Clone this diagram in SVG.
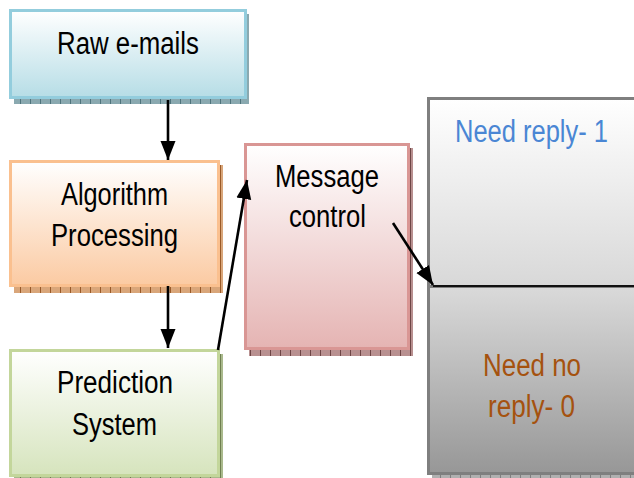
<svg xmlns="http://www.w3.org/2000/svg" width="634" height="478" viewBox="0 0 634 478">
  <defs>
    <linearGradient id="gBlue" x1="0" y1="0" x2="0" y2="1">
      <stop offset="0" stop-color="#ffffff"/>
      <stop offset="1" stop-color="#b6dde6"/>
    </linearGradient>
    <linearGradient id="gPeach" x1="0" y1="0" x2="0" y2="1">
      <stop offset="0" stop-color="#ffffff"/>
      <stop offset="1" stop-color="#fbcaa2"/>
    </linearGradient>
    <linearGradient id="gGreen" x1="0" y1="0" x2="0" y2="1">
      <stop offset="0" stop-color="#ffffff"/>
      <stop offset="1" stop-color="#d6e4bd"/>
    </linearGradient>
    <linearGradient id="gPink" x1="0" y1="0" x2="0" y2="1">
      <stop offset="0" stop-color="#ffffff"/>
      <stop offset="1" stop-color="#e5b4b3"/>
    </linearGradient>
    <linearGradient id="gLight" x1="0" y1="0" x2="0" y2="1">
      <stop offset="0" stop-color="#ffffff"/>
      <stop offset="1" stop-color="#d8d8d8"/>
    </linearGradient>
    <linearGradient id="gDark" x1="0" y1="0" x2="0" y2="1">
      <stop offset="0" stop-color="#dadada"/>
      <stop offset="1" stop-color="#979797"/>
    </linearGradient>
    <!-- textured drop-shadow strips -->
    <pattern id="pBlue" width="10" height="10" patternUnits="userSpaceOnUse">
      <rect width="10" height="10" fill="#8aa9b0"/>
      <rect width="1" height="10" fill="#4f747c"/>
    </pattern>
    <pattern id="pPeach" width="10" height="10" patternUnits="userSpaceOnUse">
      <rect width="10" height="10" fill="#d9a67a"/>
      <rect width="1" height="10" fill="#9a5a28"/>
    </pattern>
    <pattern id="pGreen" width="10" height="10" patternUnits="userSpaceOnUse">
      <rect width="10" height="10" fill="#a9b98c"/>
      <rect width="1" height="10" fill="#6f7f50"/>
    </pattern>
    <pattern id="pPink" width="10" height="10" patternUnits="userSpaceOnUse">
      <rect width="10" height="10" fill="#b89090"/>
      <rect width="1" height="10" fill="#6e4646"/>
    </pattern>
    <pattern id="pGray" width="10" height="10" patternUnits="userSpaceOnUse">
      <rect width="10" height="10" fill="#b0b0b0"/>
      <rect width="1" height="10" fill="#808080"/>
    </pattern>
    <marker id="arrow" markerUnits="userSpaceOnUse" markerWidth="20" markerHeight="20" viewBox="0 0 20 20" refX="19" refY="10" orient="auto">
      <path d="M0,2.5 L19,10 L0,17.5 Z" fill="#000"/>
    </marker>
  </defs>
  <style>
    .lbl { font-family: "Liberation Sans", Arial, sans-serif; font-size: 31px; fill: #000; }
    .blue { fill: #4a86d4; }
    .brown { fill: #a5520f; }
    .conn { stroke: #000; stroke-width: 2.6; fill: none; marker-end: url(#arrow); }
  </style>

  <rect width="634" height="478" fill="#ffffff"/>

  <g id="raw-emails">
    <rect x="14" y="14" width="235" height="90" fill="url(#pBlue)"/>
    <rect x="10.5" y="10.5" width="235" height="87" fill="url(#gBlue)" stroke="#93cddd" stroke-width="3"/>
    <text class="lbl" x="57" y="54" textLength="142" lengthAdjust="spacingAndGlyphs">Raw e-mails</text>
  </g>

  <g id="algorithm-processing">
    <rect x="14" y="165" width="209" height="128" fill="url(#pPeach)"/>
    <rect x="10.5" y="161.5" width="208" height="124" fill="url(#gPeach)" stroke="#fac08f" stroke-width="3"/>
    <text class="lbl" x="61" y="205" textLength="107" lengthAdjust="spacingAndGlyphs">Algorithm</text>
    <text class="lbl" x="51" y="246" textLength="127" lengthAdjust="spacingAndGlyphs">Processing</text>
  </g>

  <g id="prediction-system">
    <rect x="14" y="354" width="209" height="128" fill="url(#pGreen)"/>
    <rect x="10.5" y="350.5" width="208" height="125" fill="url(#gGreen)" stroke="#c3d69b" stroke-width="3"/>
    <text class="lbl" x="57" y="393" textLength="116" lengthAdjust="spacingAndGlyphs">Prediction</text>
    <text class="lbl" x="72" y="435" textLength="85" lengthAdjust="spacingAndGlyphs">System</text>
  </g>

  <g id="message-control">
    <rect x="249" y="148" width="164" height="208" fill="url(#pPink)"/>
    <rect x="245.5" y="144.5" width="163" height="204" fill="url(#gPink)" stroke="#d99694" stroke-width="3"/>
    <text class="lbl" x="275" y="187" textLength="104" lengthAdjust="spacingAndGlyphs">Message</text>
    <text class="lbl" x="289" y="227" textLength="77" lengthAdjust="spacingAndGlyphs">control</text>
  </g>

  <g id="reply-decision">
    <rect x="432" y="290" width="220" height="188" fill="url(#pGray)"/>
    <rect x="428.5" y="98.5" width="220" height="188" fill="url(#gLight)" stroke="#7f7f7f" stroke-width="3"/>
    <rect x="428.5" y="286.5" width="220" height="187" fill="url(#gDark)" stroke="#7f7f7f" stroke-width="3"/>
    <line x1="433" y1="286" x2="634" y2="286" stroke="#111" stroke-width="2"/>
    <text class="lbl blue" x="455" y="142" textLength="153" lengthAdjust="spacingAndGlyphs">Need reply- 1</text>
    <text class="lbl brown" x="483" y="376" textLength="98" lengthAdjust="spacingAndGlyphs">Need no</text>
    <text class="lbl brown" x="488" y="417" textLength="87" lengthAdjust="spacingAndGlyphs">reply- 0</text>
  </g>

  <g id="connectors">
    <line class="conn" x1="168" y1="100" x2="168" y2="160"/>
    <line class="conn" x1="168" y1="286" x2="168" y2="348"/>
    <line class="conn" x1="218" y1="350" x2="247" y2="180"/>
    <line class="conn" x1="393" y1="223" x2="433" y2="285"/>
  </g>
</svg>
